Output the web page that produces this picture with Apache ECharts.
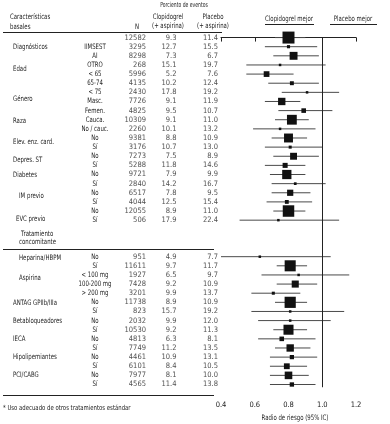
<!DOCTYPE html>
<html>
<head>
<meta charset="utf-8">
<script src="https://cdn.jsdelivr.net/npm/echarts@6/dist/echarts.min.js"></script>
<style>
html,body{margin:0;padding:0;background:#fff;}
#chart{width:390px;height:424px;}
</style>
</head>
<body>
<div id="chart"></div>
<script>
// ---------- DATA ----------
const subgroups = ['', 'IIMSEST', 'AI', 'OTRO', '< 65', '65-74', '< 75', 'Masc.', 'Femen.', 'Cauca.', 'No / cauc.',
  'No', 'Sí', 'No', 'Sí', 'No', 'Sí', 'No', 'Sí', 'No', 'Sí',
  'No', 'Sí', '< 100 mg', '100-200 mg', '> 200 mg', 'No', 'Sí', 'No', 'Sí', 'No', 'Sí', 'No', 'Sí', 'No', 'Sí'];
const nPatients = [12582, 3295, 8298, 268, 5996, 4135, 2430, 7726, 4825, 10309, 2260, 9381, 3176, 7273, 5288, 9721, 2840, 6517, 4044, 12055, 506,
  951, 11611, 1927, 7428, 3201, 11738, 823, 2032, 10530, 4813, 7749, 4461, 6101, 7977, 4565];
const clopidogrelRate = ['9.3', '12.7', '7.3', '15.1', '5.2', '10.2', '17.8', '9.1', '9.5', '9.1', '10.1', '8.8', '10.7', '7.5', '11.8', '7.9', '14.2', '7.8', '12.5', '8.9', '17.9',
  '4.9', '9.7', '6.5', '9.2', '9.9', '8.9', '15.7', '9.9', '9.2', '6.3', '11.2', '10.9', '8.4', '8.1', '11.4'];
const placeboRate = ['11.4', '15.5', '6.7', '19.7', '7.6', '12.4', '19.2', '11.9', '10.7', '11.0', '13.2', '10.9', '13.0', '8.9', '14.6', '9.9', '16.7', '9.5', '15.4', '11.0', '22.4',
  '7.7', '11.7', '9.7', '10.9', '13.7', '10.9', '19.2', '12.0', '11.3', '8.1', '13.5', '13.1', '10.5', '10.0', '13.8'];
const hazardRatio = [0.80, 0.80, 0.83, 0.75, 0.67, 0.82, 0.91, 0.76, 0.89, 0.82, 0.75, 0.80, 0.81, 0.83, 0.78, 0.79, 0.84, 0.81, 0.79, 0.80, 0.74,
  0.63, 0.81, 0.86, 0.84, 0.71, 0.81, 0.81, 0.81, 0.80, 0.76, 0.81, 0.82, 0.79, 0.80, 0.82];
const ciLow = [0.72, 0.66, 0.71, 0.55, 0.55, 0.68, 0.76, 0.66, 0.74, 0.72, 0.59, 0.70, 0.66, 0.71, 0.66, 0.69, 0.70, 0.70, 0.67, 0.71, 0.51,
  0.40, 0.73, 0.64, 0.73, 0.58, 0.72, 0.58, 0.62, 0.71, 0.62, 0.72, 0.69, 0.69, 0.69, 0.69];
const ciHigh = [0.90, 0.97, 0.98, 1.02, 0.83, 0.98, 1.10, 0.87, 1.06, 0.92, 0.96, 0.91, 1.00, 0.98, 0.90, 0.90, 1.02, 0.93, 0.94, 0.90, 1.10,
  1.05, 0.91, 1.16, 0.97, 0.87, 0.91, 1.13, 1.05, 0.91, 0.96, 0.93, 0.97, 0.91, 0.92, 0.96];
const categoryNames = ['Diagnósticos', 'Edad', 'Género', 'Raza', 'Elev. enz. card.', 'Depres. ST', 'Diabetes', 'IM previo', 'EVC previo',
  'Tratamiento', 'concomitante', 'Heparina/HBPM', 'Aspirina', 'ANTAG GPIIb/IIIa', 'Betabloqueadores', 'IECA', 'Hipolipemiantes', 'PCI/CABG'];
const xTicks = [0.4, 0.6, 0.8, 1.0, 1.2];

// ---------- LAYOUT ----------
const categoryRow = [1, 3.4, 6.75, 9.1, 11.4, 13.4, 15.1, 17.4, 19.9, 21.5, 22.4, 24.1, 26.3, 29.1, 31.1, 33, 35, 37];
const categoryIndent = [13, 13, 13, 13, 13, 13, 13, 19, 16, 21, 19, 19, 19, 13, 13, 13, 13, 13];
const slot = i => (i < 21 ? i : i + 3);
const FONT = "'Liberation Sans Narrow', 'DejaVu Sans Condensed', 'Roboto', sans-serif";
const TXT = '#1c1c1c';
const FS = 7.5;
const SX = 0.8;   // horizontal squeeze for condensed lettering
const GRID_TOP = 33, GRID_BOTTOM = 29;
const Y_MIN = -0.5, Y_MAX = 39.15;

const chart = echarts.init(document.getElementById('chart'), null, {renderer: 'canvas'});

function textCol(xPos, align, texts) {
  return {
    type: 'scatter', xAxisIndex: 1, yAxisIndex: 1, symbolSize: 1,
    itemStyle: {color: 'rgba(0,0,0,0)'}, silent: true,
    data: texts.map((t, i) => [xPos, slot(i), t]),
    label: {
      show: true, position: 'inside', align: align, verticalAlign: 'middle',
      formatter: p => p.value[2], color: TXT, fontSize: FS, fontFamily: FONT
    }
  };
}

const txt = (text, x, y, align, size, sx) => ({
  type: 'text', x: x, y: y, silent: true, scaleX: sx || SX, scaleY: 1,
  style: {text: text, x: 0, y: 0, textAlign: align, textVerticalAlign: 'middle', fill: TXT,
    font: (size || FS) + 'px ' + FONT}
});
const hline = (x1, x2, y, w) => ({
  type: 'line', silent: true, shape: {x1: x1, y1: y, x2: x2, y2: y},
  style: {stroke: '#222', lineWidth: w || 1}
});

const option = {
  animation: false,
  backgroundColor: '#fff',
  grid: [
    {left: 221, right: 34, top: GRID_TOP, bottom: GRID_BOTTOM},
    {left: 0, width: 222, top: GRID_TOP, bottom: GRID_BOTTOM}
  ],
  xAxis: [
    {
      type: 'value', gridIndex: 0, min: xTicks[0], max: xTicks[xTicks.length - 1], interval: 0.2,
      splitLine: {show: false},
      axisLine: {show: true, lineStyle: {color: '#222', width: 1}},
      axisTick: {show: true, inside: false, length: 4, lineStyle: {color: '#222'}},
      axisLabel: {formatter: v => v.toFixed(1), fontSize: FS, fontFamily: FONT, color: TXT, margin: 6}
    },
    {type: 'value', gridIndex: 1, min: 0, max: 222, show: false}
  ],
  yAxis: [
    {type: 'value', gridIndex: 0, inverse: true, min: Y_MIN, max: Y_MAX, show: false},
    {type: 'value', gridIndex: 1, inverse: true, min: Y_MIN, max: Y_MAX, show: false}
  ],
  series: [
    {
      type: 'custom', xAxisIndex: 0, yAxisIndex: 0, silent: true,
      data: ciLow.map((l, i) => [l, ciHigh[i], slot(i)]),
      encode: {x: [0, 1], y: 2},
      renderItem: (params, api) => {
        const a = api.coord([api.value(0), api.value(2)]);
        const b = api.coord([api.value(1), api.value(2)]);
        return {type: 'line', shape: {x1: a[0], y1: a[1], x2: b[0], y2: b[1]},
          style: {stroke: '#4a4a4a', lineWidth: 1}};
      },
      z: 2
    },
    {
      type: 'scatter', xAxisIndex: 0, yAxisIndex: 0, silent: true,
      symbol: 'rect',
      data: hazardRatio.map((v, i) => [v, slot(i)]),
      symbolSize: (val, p) => Math.max(2.5, nPatients[p.dataIndex] / 1050),
      itemStyle: {color: '#111', opacity: 1},
      z: 3,
      markLine: {
        silent: true, symbol: 'none', animation: false,
        lineStyle: {color: '#222', width: 1, type: 'solid'},
        label: {show: false},
        data: [[{coord: [1.0, 0.05]}, {coord: [1.0, 38.3]}]]
      }
    },
    textCol(146, 'right', nPatients.map(String)),
    textCol(176.5, 'right', clopidogrelRate),
    textCol(218, 'right', placeboRate)
  ]
};
chart.setOption(option);

// Row-bound text (positions converted through the table grid's axes)
const toPx = (x, row) => chart.convertToPixel({xAxisIndex: 1, yAxisIndex: 1}, [x, row]);
const graphics = [];
subgroups.forEach((s, i) => {
  if (!s) return;
  const p = toPx(95, slot(i));
  graphics.push(txt(s, p[0], p[1], 'center'));
});
categoryNames.forEach((c, i) => {
  const p = toPx(categoryIndent[i], categoryRow[i]);
  graphics.push(txt(c, p[0], p[1], 'left'));
});
graphics.push(
  txt('Porciento de eventos', 184, 5.5, 'center', 7, 0.72),
  txt('Características', 10, 17, 'left'),
  txt('basales', 10, 27, 'left'),
  txt('N', 137, 27, 'center'),
  txt('Clopidogrel', 168, 17, 'center'),
  txt('(+ aspirina)', 168, 26, 'center'),
  txt('Placebo', 213, 17, 'center'),
  txt('(+ aspirina)', 213, 26, 'center'),
  txt('Clopidogrel mejor', 289, 19.5, 'center'),
  txt('Placebo mejor', 353, 19.5, 'center'),
  txt('Radio de riesgo (95% IC)', 295, 418, 'center'),
  txt('* Uso adecuado de otros tratamientos estándar', 3, 408, 'left', 7, 0.85),
  hline(265, 314, 24.5, 1),
  hline(330, 377, 24.5, 1),
  hline(3, 222, 32.5, 1.2),
  hline(3, 214, 249.5, 1),
  hline(3, 214, 395.5, 1)
);
chart.setOption({graphic: graphics});
</script>
</body>
</html>
